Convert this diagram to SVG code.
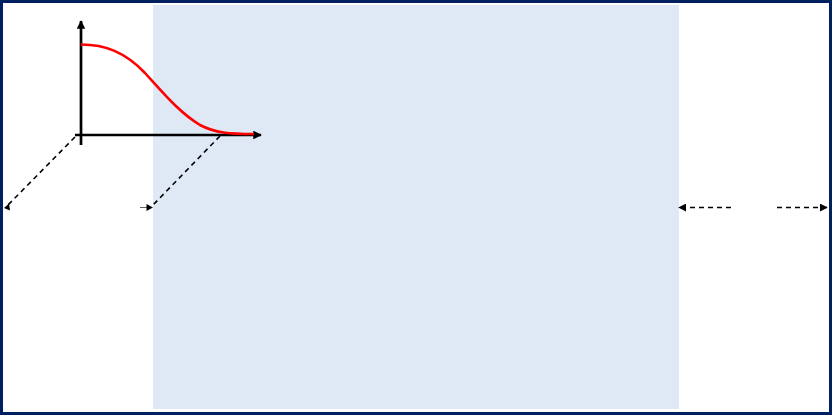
<svg xmlns="http://www.w3.org/2000/svg" width="832" height="415" viewBox="0 0 832 415">
<defs>
<marker id="ah" viewBox="0 0 10 10" refX="9" refY="5" markerWidth="3.2" markerHeight="3.2" orient="auto" markerUnits="strokeWidth"><path d="M0,0 L10,5 L0,10 z" fill="#000"/></marker>
<marker id="sm" viewBox="0 0 10 10" refX="9" refY="5" markerWidth="5" markerHeight="5" orient="auto" markerUnits="strokeWidth"><path d="M0,0 L10,5 L0,10 z" fill="#000"/></marker>
</defs>
<style>
.dash{fill:none;stroke:#000;stroke-width:1.6;stroke-dasharray:5,4}
.axis{fill:none;stroke:#000;stroke-width:2.7}
</style>
<rect x="0" y="0" width="832" height="415" fill="#fff"/>
<g id="region">
<rect x="153" y="5" width="526" height="404" fill="#dee9f5"/>
</g>
<g id="plot">
<line class="axis" x1="81" y1="145" x2="81" y2="21" marker-end="url(#ah)"/>
<line class="axis" x1="75" y1="135" x2="261" y2="135" marker-end="url(#ah)"/>
<path d="M81,44.5 C105,44.5 125,52 145,73 C165,95 180,113 200,125 C215,133 230,134 254,134" fill="none" stroke="#ff0000" stroke-width="2.6"/>
</g>
<g id="connectors">
<path class="dash" d="M75,137 L8,205" />
<path d="M9,203.5 L4,208 L10,210.5 z" fill="#000"/>
<path class="dash" d="M220,136 L153,205"/>
<line x1="140" y1="207.5" x2="148" y2="207.5" stroke="#666" stroke-width="1"/>
<path d="M146.5,204 L153,207.5 L146.5,211 z" fill="#000"/>
<line class="dash" x1="731" y1="207.5" x2="679" y2="207.5" marker-end="url(#sm)"/>
<line class="dash" x1="777" y1="207.5" x2="827" y2="207.5" marker-end="url(#sm)"/>
</g>
<rect x="1.5" y="1.5" width="829" height="412" fill="none" stroke="#002060" stroke-width="3"/>
</svg>
